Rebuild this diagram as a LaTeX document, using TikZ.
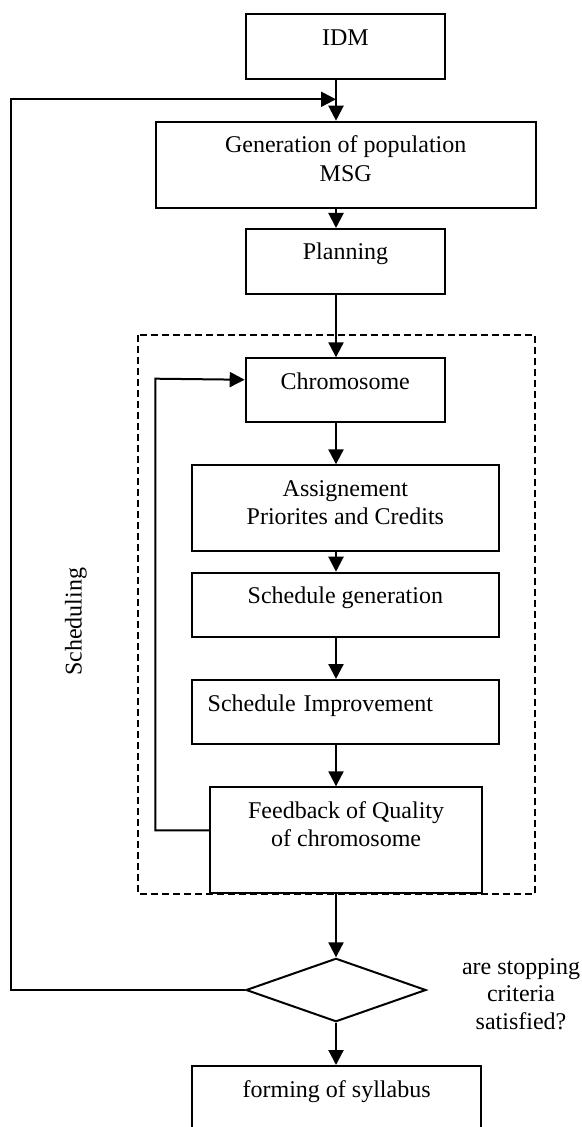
\documentclass[tikz,border=0pt]{standalone}
\usepackage{fontspec}
\setmainfont{Liberation Serif}
\usetikzlibrary{calc,positioning}
\usetikzlibrary{shapes.geometric,arrows.meta}

\tikzset{
    block/.style={draw, line width=1pt, inner xsep=0pt, inner ysep=0pt, anchor=north,
        align=center, text height=15.5pt, font=\fontsize{12}{14.2}\selectfont},
    twoline/.style={block, text height=29.7pt},
    leftblock/.style={block, align=left, inner xsep=8pt},
    flow/.style={line width=1.1pt, -{Triangle[length=7.5pt,width=7.5pt]}},
    dashbox/.style={line width=1pt, dash pattern=on 3.3pt off 2.2pt},
    decision/.style={draw, diamond, line width=1pt, inner sep=0pt}
}

\begin{document}
\begin{tikzpicture}[x=0.5pt,y=-0.5pt]
    \useasboundingbox (0,0) rectangle (582,1127);
    \coordinate (spine) at (336,0);
    % main chain
    \node[block, minimum width=99.5pt, text depth=16.7pt] (idm) at (345.5,13.3) {IDM};
    \node[twoline, minimum width=190pt, text depth=13.3pt] (gen) at (345.7,120.7) {Generation of population\\MSG};
    \node[block, minimum width=99.5pt, text depth=16.85pt] (plan) at (345.5,228) {Planning};
    \node[block, minimum width=99.5pt, text depth=16.35pt] (chrom) at (345.2,357.3) {Chromosome};
    \node[twoline, minimum width=153.65pt, text depth=13.15pt] (assign) at (345.35,464.3) {Assignement\\Priorites and Credits};
    \node[block, minimum width=153.65pt, text depth=16.5pt] (sgen) at (345.35,571.7) {Schedule generation};
    \node[leftblock, text width=137.65pt, text depth=16.65pt] (simp) at (345.35,679) {Schedule Improvement};
    \node[twoline, minimum width=136pt, text depth=23pt] (fb) at (346.1,786.3) {Feedback of Quality\\of chromosome};
    \node[decision, minimum width=90pt, minimum height=31.7pt] (test) at (336,990) {};
    \node[block, minimum width=144.85pt, text depth=40pt] (syl) at (336.6,1065) {forming of syllabus};
    % labels
    \node[rotate=90, font=\fontsize{12}{14}\selectfont] (sched) at (76,622) {Scheduling};
    \node[align=center, font=\fontsize{12}{13.75}\selectfont] (ask) at (521,994) {are stopping\\criteria\\satisfied?};
    % scheduling frame
    \draw[dashbox] (137.7,335) rectangle (535.3,893.5);
    % arrows
    \foreach \a/\b in {idm/gen,gen/plan,plan/chrom,chrom/assign,assign/sgen,sgen/simp,simp/fb,fb/test,test/syl}
        \draw[flow] (\a.south -| spine) -- (\b.north -| spine);
    \coordinate (back) at (spine |- 0,99.3);
    \draw[flow, line width=1pt] (test.west) -| (11,99.3) -- (back);
    \draw[flow, line width=1pt] ([yshift=4.85pt]fb.west) -| (155.3,378.7) -- ([yshift=5.2pt]chrom.west);
\end{tikzpicture}
\end{document}
